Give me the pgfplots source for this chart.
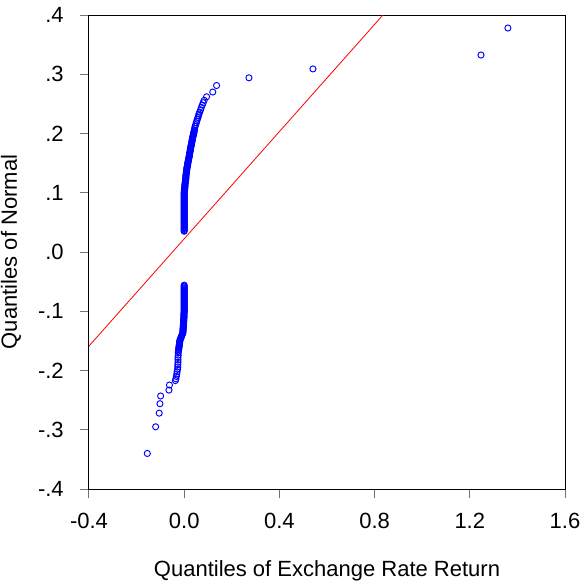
\documentclass[border=0pt]{standalone}
\usepackage{fontspec}
\setmainfont{Liberation Sans}
\usepackage{pgfplots}
\usepackage{pgfplotstable}
\pgfplotsset{compat=1.18}

% Q-Q plot points: x = quantiles of exchange rate return, y = quantiles of normal
\pgfplotstableread{
x y
0.000 0.035
0.000 0.0365
0.000 0.038
0.000 0.0395
0.000 0.041
0.000 0.0425
0.000 0.044
0.000 0.0455
0.000 0.047
0.000 0.0485
0.000 0.050
0.000 0.0515
0.000 0.053
0.000 0.0545
0.000 0.056
0.000 0.0575
0.000 0.059
0.000 0.0605
0.000 0.062
0.000 0.0635
0.000 0.065
0.000 0.0665
0.000 0.068
0.000 0.0695
0.000 0.071
0.000 0.0725
0.000 0.074
0.000 0.0755
0.000 0.077
0.000 0.0785
0.000 0.080
0.000 0.0815
0.000 0.083
0.000 0.0845
0.000 0.086
0.000 0.0875
0.000 0.089
0.000 0.0905
0.000 0.092
0.000 0.0935
0.000 0.095
0.000 0.0965
0.000 0.098
0.000 0.0995
0.000 0.101
0.001 0.1025
0.001 0.104
0.0015 0.1055
0.002 0.107
0.0025 0.1085
0.003 0.110
0.003 0.1115
0.003 0.113
0.0035 0.1145
0.004 0.116
0.0045 0.1175
0.005 0.119
0.0055 0.1205
0.006 0.122
0.0065 0.1235
0.007 0.125
0.007 0.1265
0.007 0.128
0.0075 0.1295
0.008 0.131
0.0085 0.1325
0.009 0.134
0.0095 0.1355
0.010 0.137
0.0105 0.1385
0.011 0.140
0.0115 0.1415
0.012 0.143
0.013 0.1445
0.014 0.146
0.0145 0.1475
0.015 0.149
0.0155 0.1505
0.016 0.152
0.017 0.1535
0.018 0.155
0.0185 0.1565
0.019 0.158
0.020 0.1595
0.021 0.161
0.0215 0.1625
0.022 0.164
0.0225 0.1655
0.023 0.167
0.024 0.1685
0.025 0.170
0.0255 0.1715
0.026 0.173
0.0265 0.1745
0.027 0.176
0.028 0.1775
0.029 0.179
0.0295 0.1805
0.030 0.182
0.031 0.1835
0.032 0.185
0.0325 0.1865
0.033 0.188
0.034 0.1895
0.035 0.191
0.0355 0.1925
0.036 0.194
0.037 0.1955
0.038 0.197
0.039 0.1985
0.040 0.200
0.0405 0.2015
0.041 0.203
0.042 0.2045
0.043 0.206
0.044 0.209
0.046 0.212
0.048 0.215
0.051 0.218
0.053 0.221
0.055 0.224
0.058 0.227
0.060 0.230
0.062 0.233
0.065 0.236
0.069 0.240
0.072 0.244
0.076 0.248
0.080 0.252
0.084 0.256
0.094 0.262
0.120 0.270
0.136 0.281
0.272 0.294
0.541 0.309
1.247 0.3325
1.360 0.378
}\upperpts

\pgfplotstableread{
x y
0.000 -0.056
0.000 -0.0575
0.000 -0.059
0.000 -0.0605
0.000 -0.062
0.000 -0.0635
0.000 -0.065
0.000 -0.0665
0.000 -0.068
0.000 -0.0695
0.000 -0.071
0.000 -0.0725
0.000 -0.074
0.000 -0.0755
0.000 -0.077
0.000 -0.0785
0.000 -0.080
0.000 -0.0815
0.000 -0.083
0.000 -0.0845
0.000 -0.086
0.000 -0.0875
0.000 -0.089
0.000 -0.0905
0.000 -0.092
0.000 -0.0935
0.000 -0.095
0.000 -0.0965
0.000 -0.098
0.000 -0.0995
0.000 -0.101
-0.0005 -0.1025
-0.001 -0.104
-0.001 -0.1055
-0.001 -0.107
-0.001 -0.1085
-0.001 -0.110
-0.0015 -0.1115
-0.002 -0.113
-0.002 -0.1145
-0.002 -0.116
-0.0025 -0.1175
-0.003 -0.119
-0.003 -0.1205
-0.003 -0.122
-0.0035 -0.1235
-0.004 -0.125
-0.004 -0.1265
-0.004 -0.128
-0.0045 -0.1295
-0.005 -0.131
-0.005 -0.1325
-0.005 -0.134
-0.0055 -0.1355
-0.006 -0.137
-0.0075 -0.1385
-0.009 -0.140
-0.0105 -0.1415
-0.012 -0.143
-0.0135 -0.1445
-0.015 -0.146
-0.0165 -0.1475
-0.018 -0.149
-0.0185 -0.1505
-0.019 -0.152
-0.0195 -0.1535
-0.020 -0.155
-0.0205 -0.1565
-0.021 -0.158
-0.0215 -0.1595
-0.022 -0.161
-0.0225 -0.1625
-0.023 -0.164
-0.024 -0.167
-0.025 -0.170
-0.025 -0.174
-0.026 -0.178
-0.026 -0.182
-0.026 -0.186
-0.027 -0.190
-0.027 -0.194
-0.028 -0.198
-0.030 -0.202
-0.031 -0.206
-0.033 -0.210
-0.035 -0.214
-0.037 -0.217
-0.062 -0.2245
-0.064 -0.233
-0.099 -0.243
-0.102 -0.256
-0.105 -0.272
-0.120 -0.295
-0.155 -0.340
}\lowerpts

\newcommand{\lbl}{\fontsize{16.5pt}{19.8pt}\selectfont}

\begin{document}
\begin{tikzpicture}
\useasboundingbox (-66.75pt,-70.5pt) rectangle (371.25pt,366.75pt);
\begin{axis}[
    scale only axis,
    width=357pt, height=355.5pt,
    xmin=-0.4, xmax=1.6,
    ymin=-0.4, ymax=0.4,
    xtick={-0.4,0,0.4,0.8,1.2,1.6},
    xticklabels={-0.4,0.0,0.4,0.8,1.2,1.6},
    ytick={-0.4,-0.3,-0.2,-0.1,0,0.1,0.2,0.3,0.4},
    yticklabels={-.4,-.3,-.2,-.1,.0,.1,.2,.3,.4},
    xtick pos=bottom, ytick pos=left,
    tick align=outside,
    major tick length=6.75pt,
    major tick style={black!55, line width=0.75pt},
    axis line style={line width=0.75pt},
    xticklabel style={font=\lbl, anchor=north, inner sep=0pt, yshift=-11.25pt},
    yticklabel style={font=\lbl, anchor=east, inner sep=0pt, xshift=-12pt},
    xlabel={Quantiles of Exchange Rate Return},
    ylabel={Quantiles of Normal},
    xlabel style={font=\lbl, at={(axis description cs:0.5,-0.185)}, anchor=base, inner sep=0pt},
    ylabel style={font=\lbl, at={(axis description cs:-0.1513,0.5)}, anchor=base, inner sep=0pt},
    clip=true,
]
\addplot[red, line width=0.6pt] coordinates {(-0.4,-0.1587) (0.835,0.4)};
\addplot[only marks, mark=o, mark size=2.3pt, color=blue, mark options={line width=0.7pt}] table[x=x,y=y] {\upperpts};
\addplot[only marks, mark=o, mark size=2.3pt, color=blue, mark options={line width=0.7pt}] table[x=x,y=y] {\lowerpts};
\end{axis}
\end{tikzpicture}
\end{document}
